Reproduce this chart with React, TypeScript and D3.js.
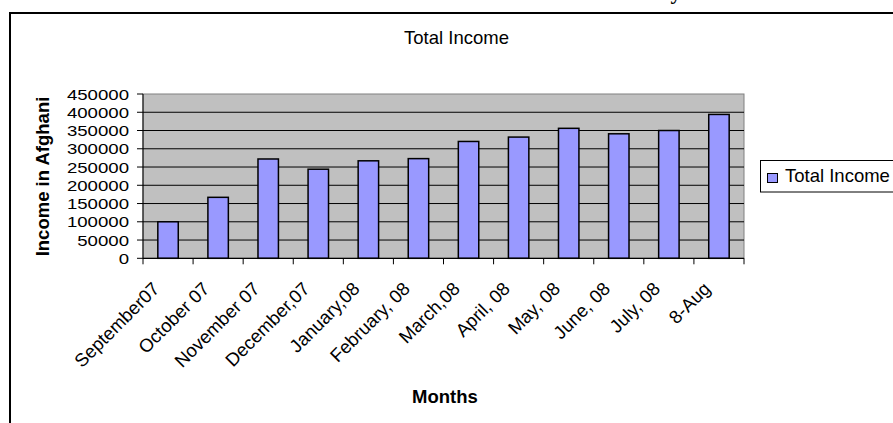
import React from "react";
import * as d3 from "d3";

const categories = [
  "September07",
  "October 07",
  "November 07",
  "December,07",
  "January,08",
  "February, 08",
  "March,08",
  "April, 08",
  "May, 08",
  "June, 08",
  "July, 08",
  "8-Aug",
];
const totalIncome = [100000, 167000, 272000, 244000, 267000, 273000, 320000, 332000, 356000, 341000, 350000, 394000];
const yTicks = [0, 50000, 100000, 150000, 200000, 250000, 300000, 350000, 400000, 450000];
const seriesName = "Total Income";
const chartTitle = "Total Income";
const xTitle = "Months";
const yTitle = "Income in Afghani";

const W = 893;
const H = 423;
const FONT = "'Liberation Sans', Arial, Helvetica, sans-serif";
const FS = 18.5;

export default function App() {
  const plot = { left: 143, right: 744, top: 94, bottom: 258.3 };
  const x = d3.scaleBand<string>().domain(categories).range([plot.left, plot.right]).paddingInner(0).paddingOuter(0);
  const y = d3.scaleLinear().domain([0, 450000]).range([plot.bottom, plot.top]);
  const step = x.step();
  const barW = step / 2.45;

  return (
    <svg
      width={W}
      height={H}
      viewBox={`0 0 ${W} ${H}`}
      style={{ position: "absolute", left: 0, top: 0, display: "block", background: "#fff" }}
    >
      {/* cut-off heading descender */}
      <text x={676} y={-1} fontFamily="'Liberation Serif', 'Times New Roman', serif" fontWeight="bold" fontSize={22} textAnchor="middle">
        y
      </text>
      {/* outer border */}
      <rect x={10} y={13} width={W + 20} height={H + 20} fill="none" stroke="#000" strokeWidth={2} />

      {/* title */}
      <text x={456.5} y={44} fontFamily={FONT} fontSize={FS} textAnchor="middle" fill="#000">
        {chartTitle}
      </text>

      {/* plot area */}
      <rect
        x={plot.left}
        y={plot.top}
        width={plot.right - plot.left}
        height={plot.bottom - plot.top}
        fill="#C0C0C0"
        stroke="#808080"
        strokeWidth={1}
      />
      {yTicks.map((t) =>
        t === 0 || t === 450000 ? null : (
          <line key={"g" + t} x1={plot.left} x2={plot.right} y1={y(t)} y2={y(t)} stroke="#000" strokeWidth={1} />
        )
      )}

      {/* bars */}
      {categories.map((c, i) => {
        const cx = (x(c) as number) + step / 2;
        return (
          <rect
            key={"b" + c}
            x={cx - barW / 2}
            y={y(totalIncome[i])}
            width={barW}
            height={y(0) - y(totalIncome[i])}
            fill="#9999FF"
            stroke="#000"
            strokeWidth={1.5}
          />
        );
      })}

      {/* axes */}
      <line x1={plot.left} x2={plot.left} y1={plot.top} y2={plot.bottom} stroke="#000" strokeWidth={1} />
      <line x1={plot.left} x2={plot.right} y1={plot.bottom} y2={plot.bottom} stroke="#000" strokeWidth={1.2} />
      {yTicks.map((t) => {
        const label = String(t);
        return (
          <g key={"yt" + t}>
            <line x1={plot.left - 6} x2={plot.left} y1={y(t)} y2={y(t)} stroke="#000" strokeWidth={1} />
            <text
              x={129}
              y={y(t)}
              dy="0.36em"
              fontFamily={FONT}
              fontSize={15.5}
              textAnchor="end"
              fill="#000"
              textLength={label.length * 10.35}
              lengthAdjust="spacingAndGlyphs"
            >
              {label}
            </text>
          </g>
        );
      })}
      {d3.range(categories.length + 1).map((i) => (
        <line
          key={"xt" + i}
          x1={plot.left + i * step}
          x2={plot.left + i * step}
          y1={plot.bottom}
          y2={plot.bottom + 6}
          stroke="#000"
          strokeWidth={1}
        />
      ))}
      {categories.map((c) => {
        const cx = (x(c) as number) + step / 2 - 7.5;
        return (
          <text
            key={"xl" + c}
            transform={`translate(${cx},${290}) rotate(-45)`}
            fontFamily={FONT}
            fontSize={FS}
            textAnchor="end"
            fill="#000"
          >
            {c}
          </text>
        );
      })}

      {/* axis titles */}
      <text x={445} y={403} fontFamily={FONT} fontSize={FS} fontWeight="bold" textAnchor="middle" fill="#000">
        {xTitle}
      </text>
      <text
        transform={`translate(48.5,176.5) rotate(-90)`}
        fontFamily={FONT}
        fontSize={FS}
        fontWeight="bold"
        textAnchor="middle"
        fill="#000"
      >
        {yTitle}
      </text>

      {/* legend */}
      <rect x={760.5} y={160.5} width={160} height={31.5} fill="#fff" stroke="#000" strokeWidth={1} />
      <rect x={767.5} y={173.5} width={10} height={9} fill="#9999FF" stroke="#000" strokeWidth={1} />
      <text x={785} y={182} fontFamily={FONT} fontSize={FS} fill="#000">
        {seriesName}
      </text>
    </svg>
  );
}
